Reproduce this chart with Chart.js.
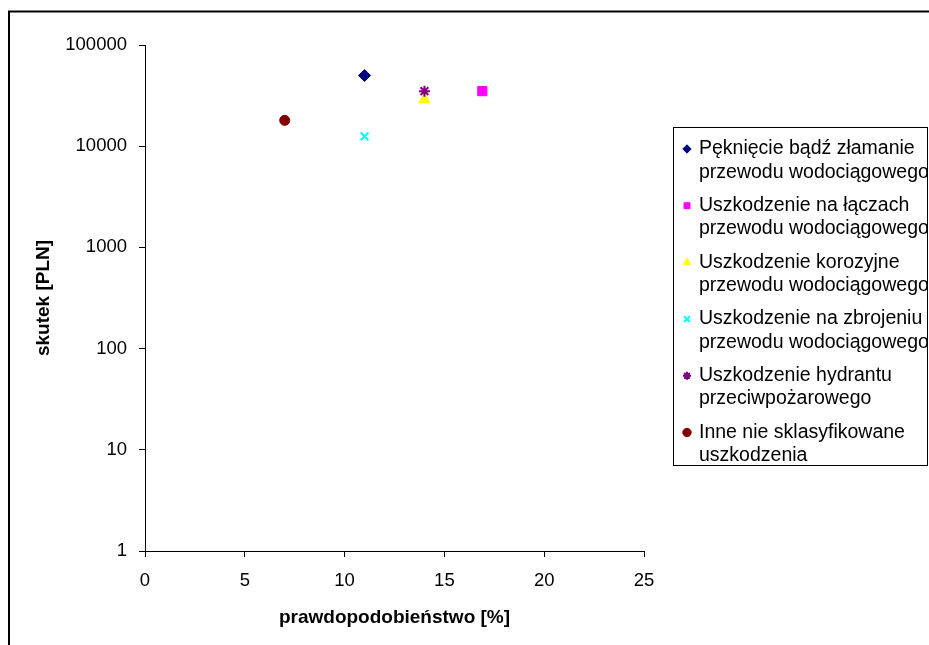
<!DOCTYPE html>
<html>
<head>
<meta charset="utf-8">
<script src="https://cdn.jsdelivr.net/npm/chart.js@4"></script>
<style>
  body { margin: 0; background: #fff; }
  canvas { display: block; }
</style>
</head>
<body>
<canvas id="myChart" width="929" height="645"></canvas>
<script>
// data
const seriesNames = [
  ["Pęknięcie bądź złamanie", "przewodu wodociągowego"],
  ["Uszkodzenie na łączach", "przewodu wodociągowego"],
  ["Uszkodzenie korozyjne", "przewodu wodociągowego"],
  ["Uszkodzenie na zbrojeniu", "przewodu wodociągowego"],
  ["Uszkodzenie hydrantu", "przeciwpożarowego"],
  ["Inne nie sklasyfikowane", "uszkodzenia"],
];
const probability = [11, 16.9, 14, 11, 14, 7];
const cost = [50000, 35000, 29000, 12500, 35000, 18000];
const costTicks = [1, 10, 100, 1000, 10000, 100000];
const probTicks = [0, 5, 10, 15, 20, 25];

const colors = ["#000080", "#FF00FF", "#FFFF00", "#00FFFF", "#800080", "#800000"];
const markers = ["rectRot", "rect", "triangle", "crossRot", "star", "circle"];
const radii = [6, 6.5, 6.5, 5.5, 5.5, 5];

const font = "'Liberation Sans', Arial, sans-serif";

// frame round the whole picture
const framePlugin = {
  id: "frame",
  beforeDraw(chart) {
    const ctx = chart.ctx;
    ctx.save();
    ctx.fillStyle = "#fff";
    ctx.fillRect(0, 0, chart.width, chart.height);
    ctx.strokeStyle = "#000";
    ctx.lineWidth = 2;
    ctx.strokeRect(9, 11.5, 2000, 2000);
    ctx.restore();
  },
};

// legend with two-line labels, like the excel one
const boxLegend = {
  id: "boxLegend",
  afterDraw(chart) {
    const ctx = chart.ctx;
    ctx.save();
    ctx.strokeStyle = "#000";
    ctx.lineWidth = 1;
    ctx.strokeRect(673.5, 127.5, 254, 338);
    ctx.font = "19.5px " + font;
    ctx.fillStyle = "#000";
    ctx.textBaseline = "middle";
    chart.data.datasets.forEach((ds, i) => {
      const y = 149 + i * 56.7;
      const style = {
        pointStyle: ds.pointStyle,
        radius: ds.pointStyle === "crossRot" || ds.pointStyle === "star" ? 4 : 4.2,
        borderWidth: ds.borderWidth,
        rotation: 0,
      };
      ctx.fillStyle = ds.backgroundColor;
      ctx.strokeStyle = ds.borderColor;
      ctx.lineWidth = ds.borderWidth;
      Chart.helpers.drawPoint(ctx, style, 687, y);
      ctx.fillStyle = "#000";
      ctx.fillText(seriesNames[i][0], 699, y);
      ctx.fillText(seriesNames[i][1], 699, y + 23.3);
    });
    ctx.restore();
  },
};

const ctx = document.getElementById("myChart");

new Chart(ctx, {
  type: "scatter",
  data: {
    datasets: seriesNames.map((name, i) => ({
      label: name.join(" "),
      data: [{ x: probability[i], y: cost[i] }],
      pointStyle: markers[i],
      pointRadius: radii[i],
      backgroundColor: colors[i],
      borderColor: colors[i],
      borderWidth: markers[i] === "crossRot" || markers[i] === "star" ? 2 : 1,
      order: 6 - i,
    })),
  },
  options: {
    responsive: false,
    animation: false,
    events: [],
    layout: { padding: { left: 0, top: 45, right: 285, bottom: 0 } },
    plugins: {
      legend: { display: false },
      tooltip: { enabled: false },
    },
    scales: {
      x: {
        type: "linear",
        min: 0,
        max: 25,
        afterBuildTicks: (scale) => {
          scale.ticks = probTicks.map((v) => ({ value: v }));
        },
        afterFit: (scale) => {
          scale.height = 94;
        },
        ticks: {
          color: "#000",
          padding: 13,
          font: { family: font, size: 18.5 },
        },
        grid: {
          drawOnChartArea: false,
          tickLength: 6,
          color: "#000",
        },
        border: { color: "#000", width: 1 },
        title: {
          display: true,
          text: "prawdopodobieństwo [%]",
          color: "#000",
          padding: { top: 0, bottom: 16 },
          font: { family: font, size: 19, weight: "bold" },
        },
      },
      y: {
        type: "logarithmic",
        min: 1,
        max: 100000,
        afterBuildTicks: (scale) => {
          scale.ticks = costTicks.map((v) => ({ value: v }));
        },
        afterFit: (scale) => {
          scale.width = 145;
        },
        ticks: {
          color: "#000",
          padding: 12,
          font: { family: font, size: 18.5 },
          callback: (v) => String(v),
        },
        grid: {
          drawOnChartArea: false,
          tickLength: 6,
          color: "#000",
        },
        border: { color: "#000", width: 1 },
        title: {
          display: true,
          text: "skutek [PLN]",
          color: "#000",
          padding: { top: 32.6, bottom: 0 },
          font: { family: font, size: 19, weight: "bold" },
        },
      },
    },
  },
  plugins: [framePlugin, boxLegend],
});
</script>
</body>
</html>
